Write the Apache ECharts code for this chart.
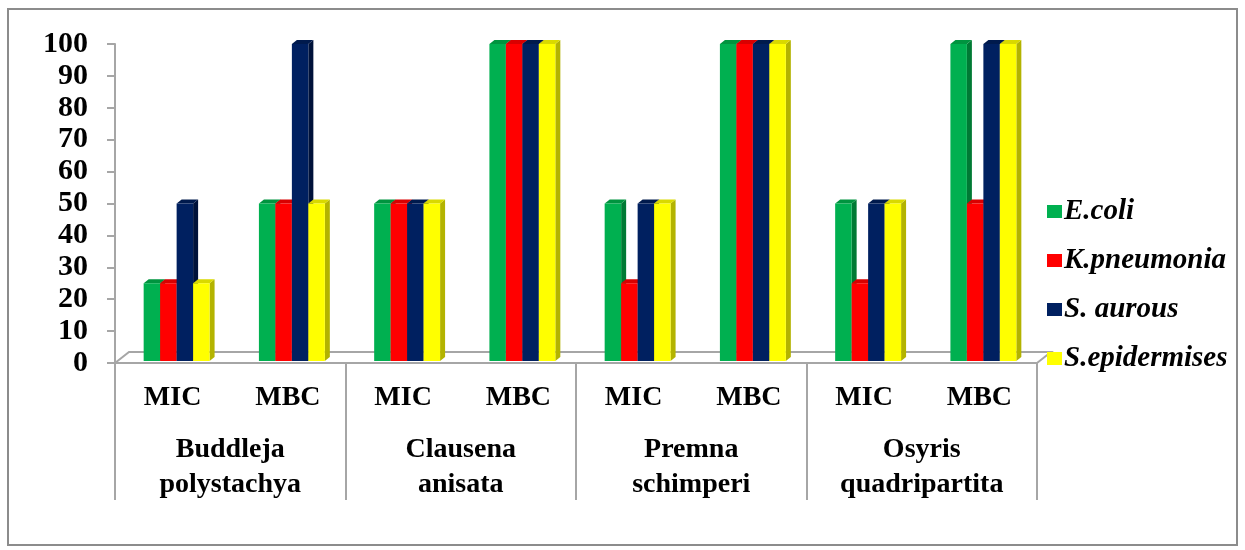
<!DOCTYPE html>
<html>
<head>
<meta charset="utf-8">
<script src="https://cdn.jsdelivr.net/npm/echarts@6/dist/echarts.min.js"></script>
<style>
  html, body { margin: 0; padding: 0; background: #fff; }
  #chart { width: 1245px; height: 550px; }
</style>
</head>
<body>
<div id="chart"></div>
<script>
const categories = ['MIC', 'MBC', 'MIC', 'MBC', 'MIC', 'MBC', 'MIC', 'MBC']
const groups = ['Buddleja\npolystachya', 'Clausena\nanisata', 'Premna\nschimperi', 'Osyris\nquadripartita']
const yTicks = [0, 10, 20, 30, 40, 50, 60, 70, 80, 90, 100]

const seriesNames = ['E.coli', 'K.pneumonia', 'S. aurous', 'S.epidermises']
const eColi = [25, 50, 50, 100, 50, 100, 50, 100]
const kPneumonia = [25, 50, 50, 100, 25, 100, 25, 50]
const sAurous = [50, 100, 50, 100, 50, 100, 50, 100]
const sEpidermises = [25, 50, 50, 100, 50, 100, 50, 100]

const seriesValues = [eColi, kPneumonia, sAurous, sEpidermises]
const faceColors = ['#00B050', '#FF0000', '#002060', '#FFFF00']
const topColors = ['#00943f', '#d90000', '#001a4d', '#d9d900']
const sideColors = ['#007a34', '#b00000', '#00123a', '#b3b300']

const serif = '"Liberation Serif", "Times New Roman", serif'

// 3d-ish bar: front face, top face and right side face
function makeRenderer(k) {
  return function (params, api) {
    const idx = api.value(0)
    const base = api.coord([idx, 0])
    const top = api.coord([idx, api.value(1)])
    const catW = api.size([1, 0])[0]
    const w = catW * 0.143
    const dx = 5
    const dy = 4
    const x0 = base[0] - 2 * w + 4 + k * w
    const yb = base[1] - 2
    const yt = top[1]
    return {
      type: 'group',
      children: [
        {
          type: 'polygon',
          shape: { points: [[x0 + w, yt], [x0 + w + dx, yt - dy], [x0 + w + dx, yb - dy], [x0 + w, yb]] },
          style: { fill: sideColors[k] },
        },
        {
          type: 'polygon',
          shape: { points: [[x0, yt], [x0 + dx, yt - dy], [x0 + w + dx, yt - dy], [x0 + w, yt]] },
          style: { fill: topColors[k] },
        },
        {
          type: 'rect',
          shape: { x: x0, y: yt, width: w, height: yb - yt },
          style: { fill: faceColors[k] },
        },
      ],
    }
  }
}

const chart = echarts.init(document.getElementById('chart'))

chart.setOption({
  animation: false,
  color: faceColors,
  grid: { left: 115, right: 208, top: 44, bottom: 187 },
  graphic: [
    {
      type: 'rect',
      shape: { x: 8, y: 9, width: 1229, height: 536 },
      style: { fill: 'none', stroke: '#8c8c8c', lineWidth: 2 },
      silent: true,
    },
    {
      type: 'polyline',
      shape: { points: [[115, 363], [129, 352], [1051, 352], [1037, 363]] },
      style: { fill: 'none', stroke: '#a6a6a6', lineWidth: 2 },
      z: 0,
      silent: true,
    },
  ],
  legend: {
    orient: 'vertical',
    left: 1042,
    top: 192,
    itemWidth: 15,
    itemHeight: 13,
    itemGap: 20,
    icon: 'rect',
    data: seriesNames,
    textStyle: {
      fontFamily: serif,
      fontSize: 29,
      fontWeight: 'bold',
      fontStyle: 'italic',
      color: '#000',
      padding: [0, 0, 0, -3],
    },
  },
  xAxis: [
    {
      type: 'category',
      data: categories,
      axisLine: { show: false },
      axisTick: { show: false },
      axisLabel: {
        margin: 21,
        fontFamily: serif,
        fontSize: 28,
        fontWeight: 'bold',
        color: '#000',
      },
    },
    {
      type: 'category',
      position: 'bottom',
      data: groups,
      axisLine: { show: true, lineStyle: { color: '#a6a6a6', width: 2 } },
      axisTick: { show: true, length: 137, lineStyle: { color: '#a6a6a6', width: 2 } },
      axisLabel: {
        margin: 69,
        fontFamily: serif,
        fontSize: 28,
        fontWeight: 'bold',
        color: '#000',
        lineHeight: 35,
      },
    },
  ],
  yAxis: {
    type: 'value',
    min: yTicks[0],
    max: yTicks[yTicks.length - 1],
    interval: 10,
    axisLine: { show: true, lineStyle: { color: '#a6a6a6', width: 2 } },
    axisTick: { show: true, length: 8, lineStyle: { color: '#a6a6a6', width: 2 } },
    splitLine: { show: false },
    axisLabel: {
      margin: 27,
      fontFamily: serif,
      fontSize: 30,
      fontWeight: 'bold',
      color: '#000',
    },
  },
  series: seriesNames.map((name, k) => ({
    name,
    type: 'custom',
    xAxisIndex: 0,
    itemStyle: { color: faceColors[k] },
    renderItem: makeRenderer(k),
    encode: { x: 0, y: 1 },
    data: seriesValues[k].map((v, i) => [i, v]),
    z: 2,
  })),
})
</script>
</body>
</html>
